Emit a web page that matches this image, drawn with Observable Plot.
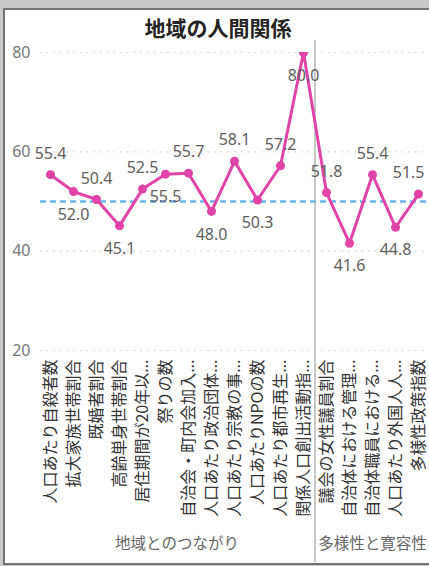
<!DOCTYPE html>
<html>
<head>
<meta charset="utf-8">
<script src="https://cdn.jsdelivr.net/npm/d3@7"></script>
<script src="https://cdn.jsdelivr.net/npm/@observablehq/plot@0.6"></script>
<style>
  html, body { margin: 0; padding: 0; }
  body { width: 429px; height: 566px; background: #c8c8c8; position: relative; overflow: hidden; }
  #frame { position: absolute; left: 3px; top: 8px; width: 520px; height: 553px; background: #fff; border: 2px solid #737373; }
  #title { position: absolute; left: 0; top: 14px; width: 436px; text-align: center; font-family: "Noto Sans CJK JP", sans-serif; font-weight: bold; font-size: 21px; line-height: 26px; color: #252423; }
  #chart { position: absolute; left: 0; top: 40px; }
</style>
</head>
<body>
<div id="frame"></div>
<div id="title">地域の人間関係</div>
<div id="chart"></div>
<script>
const categories = [
  "人口あたり自殺者数", "拡大家族世帯割合", "既婚者割合", "高齢単身世帯割合",
  "居住期間が20年以...", "祭りの数", "自治会・町内会加入...", "人口あたり政治団体...",
  "人口あたり宗教の事...", "人口あたりNPOの数", "人口あたり都市再生...", "関係人口創出活動指...",
  "議会の女性議員割合", "自治体における管理...", "自治体職員における...", "人口あたり外国人人...",
  "多様性政策指数"
];
const values = [55.4, 52.0, 50.4, 45.1, 52.5, 55.5, 55.7, 48.0, 58.1, 50.3, 57.2, 80.0,
                51.8, 41.6, 55.4, 44.8, 51.5];
const groupNames = ["地域とのつながり", "多様性と寛容性"];
const groupSizes = [12, 5];
const average = 50;
const yTicks = [20, 40, 60, 80];

const last = values.length - 1;
const data = values.map((v, i) => ({i, v, above: i % 2 === 0, edge: i === last}));
let start = 0;
const groups = groupNames.map((name, g) => {
  const s = start, e = start + groupSizes[g] - 1;
  start += groupSizes[g];
  return {name, center: (s + e) / 2, end: e};
});
const separators = groups.slice(0, -1).map(g => g.end + 0.5);

const pink = "#e044a7";
const numFont = "'Segoe UI', 'Noto Sans', 'Open Sans', sans-serif";
const cjkFont = "'Noto Sans CJK JP', sans-serif";
const fmt = d => d.v.toFixed(1);
const labelStyle = {x: "i", y: "v", text: fmt, fontSize: 16, fill: "#605e5c", fontFamily: numFont};
const aboveDy = -21, belowDy = 23;

const chart = Plot.plot({
  width: 429,
  height: 522,
  marginTop: 12,
  marginBottom: 212,
  marginLeft: 40,
  marginRight: 2,
  style: {background: "transparent", overflow: "visible", fontFamily: cjkFont},
  x: {domain: [0, categories.length - 1], range: [50, 418]},
  y: {domain: [20, 80]},
  marks: [
    Plot.gridY(yTicks, {stroke: "#c4c4c4", strokeOpacity: 1, strokeWidth: 1.2, strokeDasharray: "1.2,5.5"}),
    Plot.axisY(yTicks, {tickSize: 0, tickPadding: 10, fontSize: 16, fill: "#777", fontFamily: numFont, label: null}),
    Plot.axisX(d3.range(categories.length), {
      tickFormat: i => categories[i], tickRotate: -90, tickSize: 0, tickPadding: 9,
      fontSize: 16, fill: "#333", label: null
    }),
    Plot.ruleX(separators, {stroke: "#c8c8c8", strokeWidth: 2, insetTop: -12, insetBottom: -212}),
    Plot.ruleY([average], {stroke: "#6cb4f5", strokeWidth: 2.5, strokeDasharray: "6,4"}),
    Plot.line(data, {x: "i", y: "v", stroke: pink, strokeWidth: 3, clip: true}),
    Plot.dot(data, {x: "i", y: "v", r: 4.5, fill: pink, stroke: "none", clip: true}),
    Plot.text(data.filter(d => d.above && !d.edge), {...labelStyle, dy: aboveDy}),
    Plot.text(data.filter(d => !d.above && !d.edge), {...labelStyle, dy: belowDy}),
    Plot.text(data.filter(d => d.edge), {...labelStyle, dy: data[last].above ? aboveDy : belowDy, dx: 6, textAnchor: "end"}),
    Plot.text(groups, {x: "center", text: "name", frameAnchor: "bottom", dy: 198, fontSize: 15.5, fill: "#666"})
  ]
});
document.getElementById("chart").appendChild(chart);
</script>
</body>
</html>
